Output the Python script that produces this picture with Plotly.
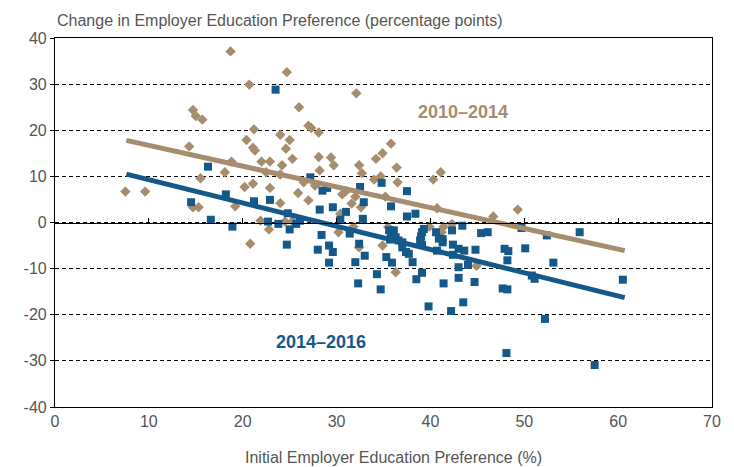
import plotly.graph_objects as go

# ---- data ----
tan_x = [7.5, 9.6, 14.3, 14.7, 15.0, 15.7, 15.5, 14.7, 15.3, 18.7, 20.7, 21.2, 20.4, 21.1, 21.3,
         18.8, 18.1, 22.0, 22.9, 22.5, 20.2, 21.1, 22.9, 24.0, 19.2, 20.8, 21.9, 22.8, 24.7, 32.1,
         26.0, 27.0, 27.3, 28.1, 24.0, 25.0, 24.6, 25.3, 24.2, 28.1, 29.4, 28.2, 29.7, 34.2, 34.9,
         35.8, 32.4, 32.7, 36.4, 36.5, 34.0, 34.7, 40.3, 41.1, 26.5, 27.7, 25.9, 27.0, 30.6, 31.0,
         32.0, 31.6, 35.2, 32.6, 40.7, 46.7, 49.3, 30.2, 31.8, 35.5, 41.4, 42.3, 32.4, 34.9, 36.3,
         44.9, 24.0, 24.5, 25.3, 39.9, 41.2, 30.4]
tan_y = [6.7, 6.7, 16.5, 24.4, 23.1, 22.3, 9.6, 3.3, 3.3, 37.1, 29.9, 20.2, 17.9, 16.2, 15.6,
         13.2, 10.9, 13.2, 13.2, 10.9, 7.7, 8.4, 7.5, 4.2, 3.5, -4.6, 0.4, -1.5, 32.6, 28.0,
         25.0, 21.0, 20.5, 19.5, 19.0, 17.9, 16.0, 13.8, 12.4, 14.2, 14.1, 11.3, 12.4, 13.8, 15.0,
         17.1, 12.4, 10.7, 11.9, 8.7, 9.3, 10.0, 9.3, 10.9, 8.7, 8.0, 6.4, 4.8, 6.1, 6.8,
         5.6, 4.1, 5.6, 3.3, 3.1, 1.3, 2.8, -2.1, -0.9, -1.0, -0.9, -0.3, -5.4, -5.0, -10.8,
         -9.4, 10.4, 0.2, 0.3, -0.9, -2.1, 1.9]

blue_x = [23.5, 16.3, 18.2, 14.5, 21.2, 22.9, 16.6, 18.9, 22.7, 23.8, 24.8, 25.0, 25.7, 26.1, 24.7,
          27.2, 28.5, 29.0, 32.5, 34.8, 37.5, 32.9, 35.8, 28.2, 29.6, 31.0, 30.4, 32.8, 37.5, 38.4,
          28.4, 28.0, 29.2, 29.6, 29.2, 31.4, 32.4, 33.0, 32.0, 34.3, 32.3, 34.7, 35.3, 35.9, 35.6,
          36.1, 35.8, 36.3, 36.6, 37.0, 37.0, 37.4, 37.7, 35.7, 38.1, 39.1, 38.5, 39.3, 39.1, 39.0,
          38.9, 39.1, 40.6, 40.9, 41.3, 41.3, 40.7, 42.3, 42.4, 43.0, 43.6, 42.4, 43.4, 43.0, 44.0,
          43.0, 41.4, 44.8, 44.7, 45.4, 46.1, 43.5, 39.8, 42.2, 47.9, 48.3, 48.2, 47.7, 48.2, 48.1,
          50.1, 49.7, 52.4, 53.1, 50.8, 51.1, 52.2, 55.9, 60.5, 57.5]
blue_y = [28.8, 12.1, 6.1, 4.4, 4.6, 4.9, 0.6, -0.9, 0.2, -0.3, 2.0, -1.5, -0.3, 0.4, -4.8,
          9.8, 6.9, 7.5, 7.7, 8.6, 6.8, 4.4, 3.5, 2.8, 3.3, 2.3, 0.6, 0.8, 1.3, 1.9,
          -2.7, -5.9, -5.0, -6.4, -8.7, -2.4, -4.6, -7.2, -8.6, -11.2, -13.2, -14.5, -7.5, -8.7, -1.7,
          -1.7, -2.8, -3.2, -3.9, -4.3, -5.4, -6.4, -6.8, -3.7, -8.6, -10.9, -12.3, -1.4, -2.1, -3.0,
          -3.9, -4.8, -2.1, -3.5, -3.6, -4.3, -6.1, -1.7, -4.8, -5.7, -6.1, -7.0, -0.7, -9.7, -9.2,
          -12.0, -13.2, -5.9, -12.9, -2.3, -2.1, -17.3, -18.2, -19.2, -5.7, -6.2, -8.2, -14.3, -14.5, -28.3,
          -5.6, -1.2, -2.8, -8.7, -11.5, -12.2, -20.9, -2.1, -12.4, -30.9]

trend_x = [7.6, 60.7]
tan_trend = [17.8, -6.1]
blue_trend = [10.5, -16.3]

x_ticks = [0, 10, 20, 30, 40, 50, 60, 70]
y_ticks = [40, 30, 20, 10, 0, -10, -20, -30, -40]
y_ticktext = ["40", "30", "20", "10", "0", "-10", "-20", "-30", "-40"]
inner_ticks = [10, 20, 30, 40, 50, 60]

TAN = "#A58D6E"
BLUE = "#15598A"
TXT = "#555555"
FONT = "Liberation Sans"

fig = go.Figure()
fig.add_trace(go.Scatter(x=tan_x, y=tan_y, mode="markers", name="2010–2014",
                         marker=dict(symbol="diamond", size=8, color=TAN)))
fig.add_trace(go.Scatter(x=blue_x, y=blue_y, mode="markers", name="2014–2016",
                         marker=dict(symbol="square", size=8, color=BLUE)))
fig.add_trace(go.Scatter(x=trend_x, y=tan_trend, mode="lines", xaxis="x2",
                         line=dict(color=TAN, width=5), hoverinfo="skip"))
fig.add_trace(go.Scatter(x=trend_x, y=blue_trend, mode="lines", xaxis="x2",
                         line=dict(color=BLUE, width=5), hoverinfo="skip"))

fig.update_layout(
    width=726, height=459,
    margin=dict(l=47, r=22, t=30, b=60),
    plot_bgcolor="white", paper_bgcolor="white",
    showlegend=False,
    font=dict(family=FONT, size=16, color=TXT),
    xaxis=dict(range=[0, 70], tickvals=x_ticks, showgrid=False, zeroline=False,
               showline=True, mirror=True, linecolor="black", linewidth=1.2,
               ticks="", tickfont=dict(size=16, color=TXT)),
    xaxis2=dict(range=[0, 70], overlaying="x", anchor="free", position=0.5, side="top",
                tickvals=inner_ticks, showticklabels=False, ticks="outside", ticklen=5,
                tickcolor="black", showline=True, linecolor="black", linewidth=1,
                showgrid=False, zeroline=False),
    yaxis=dict(range=[-40, 40], tickvals=y_ticks, ticktext=y_ticktext,
               showgrid=True, gridcolor="black", gridwidth=1, griddash="4px,3px",
               zeroline=False, showline=True, mirror=True, linecolor="black", linewidth=1.2,
               ticks="outside", ticklen=4, tickcolor="black",
               tickfont=dict(size=16, color=TXT)),
    annotations=[
        dict(text="Change in Employer Education Preference (percentage points)",
             xref="paper", yref="paper", x=0, y=1, xanchor="left", yanchor="bottom",
             yshift=7, showarrow=False, font=dict(size=16, color=TXT)),
        dict(text="Initial Employer Education Preference (%)",
             xref="paper", yref="paper", x=0.515, y=0, xanchor="center", yanchor="top",
             yshift=-40, showarrow=False, font=dict(size=16, color=TXT)),
        dict(text="<b>2010–2014</b>", x=43.5, y=23.9, xref="x", yref="y",
             showarrow=False, font=dict(size=18, color=TAN)),
        dict(text="<b>2014–2016</b>", x=28.3, y=-26.0, xref="x", yref="y",
             showarrow=False, font=dict(size=18, color=BLUE)),
    ],
)

fig.write_html("out.html")
